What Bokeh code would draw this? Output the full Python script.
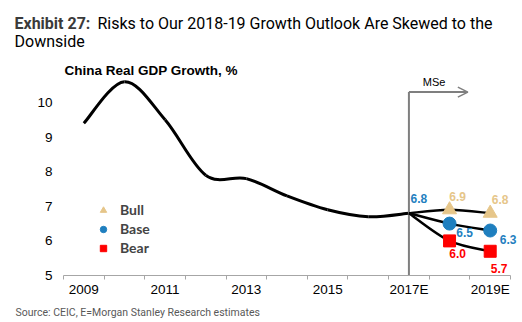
from bokeh.plotting import figure
from bokeh.models import (ColumnDataSource, FixedTicker, Label, Arrow, OpenHead,
                          Legend, LegendItem, Range1d)
from bokeh.embed import file_html
from bokeh.resources import INLINE

# ---------------- data ----------------
hist_years = [2009, 2010, 2011, 2012, 2013, 2014, 2015, 2016, 2017]
hist_gdp = [9.4, 10.6, 9.5, 7.9, 7.8, 7.3, 6.9, 6.7, 6.8]

scen_years = [2017, 2018, 2019]
bull = [6.8, 6.9, 6.8]
base = [6.8, 6.5, 6.3]
bear = [6.8, 6.0, 5.7]

tick_years = [2009, 2011, 2013, 2015, 2017, 2019]
tick_labels = ["2009", "2011", "2013", "2015", "2017E", "2019E"]
y_ticks = [5, 6, 7, 8, 9, 10]

BULL_C = "#E6C68A"
BASE_C = "#1F7FBF"
BEAR_C = "#FF0000"
GRAY = "#7F7F7F"

HEAD_H = 54
FOOT_H = 20
MAIN_H = 322 - HEAD_H - FOOT_H


def smooth(xs, ys):
    """Excel-like smoothed line: cubic Bezier segments through the points."""
    n = len(xs)
    d = dict(x0=[], y0=[], x1=[], y1=[], cx0=[], cy0=[], cx1=[], cy1=[])
    for i in range(n - 1):
        a = i - 1 if i > 0 else i
        b = i + 2 if i + 2 < n else i + 1
        d["x0"].append(xs[i]); d["y0"].append(ys[i])
        d["x1"].append(xs[i + 1]); d["y1"].append(ys[i + 1])
        d["cx0"].append(xs[i] + (xs[i + 1] - xs[a]) / 6)
        d["cy0"].append(ys[i] + (ys[i + 1] - ys[a]) / 6)
        d["cx1"].append(xs[i + 1] - (xs[b] - xs[i]) / 6)
        d["cy1"].append(ys[i + 1] - (ys[b] - ys[i]) / 6)
    return ColumnDataSource(d)


def text_fig(height):
    f = figure(width=522, height=height, output_backend="svg",
               toolbar_location=None, x_range=Range1d(0, 522),
               y_range=Range1d(height, 0), x_axis_type=None, y_axis_type=None,
               min_border=0)
    f.outline_line_color = None
    f.xgrid.visible = False
    f.ygrid.visible = False
    return f


# ---------------- header ----------------
top = text_fig(HEAD_H)
top.add_layout(Label(x=14, y=23, text="Exhibit 27:", text_font="Roboto",
                     text_font_style="bold", text_font_size="16px",
                     text_color="#3a3a3a", text_baseline="alphabetic"))
top.add_layout(Label(x=97, y=23,
                     text="Risks to Our 2018-19 Growth Outlook Are Skewed to the",
                     text_font="Roboto", text_font_size="16px",
                     text_color="#000000", text_baseline="alphabetic"))
top.add_layout(Label(x=14, y=41, text="Downside", text_font="Roboto",
                     text_font_size="16px", text_color="#000000",
                     text_baseline="alphabetic"))

# ---------------- main chart ----------------
frame_h = MAIN_H - 27
p = figure(width=522, height=MAIN_H, output_backend="svg", toolbar_location=None,
           x_range=Range1d(2008.5, 2019.795),
           y_range=Range1d(5, 5 + frame_h / 34.6),
           min_border_left=63, min_border_right=0, min_border_top=0,
           min_border_bottom=27)
p.outline_line_color = None
p.xgrid.visible = False
p.ygrid.visible = False

xa = p.xaxis[0]
xa.bounds = (2008.5, 2019.5)
xa.ticker = FixedTicker(ticks=tick_years,
                        minor_ticks=[y + 0.5 for y in range(2008, 2020)])
xa.major_label_overrides = {t: l for t, l in zip(tick_years, tick_labels)}
xa.major_tick_in = 0
xa.major_tick_out = 0
xa.minor_tick_in = 0
xa.minor_tick_out = 4
xa.minor_tick_line_color = "#A6A6A6"
xa.axis_line_color = "#A6A6A6"
xa.axis_line_width = 1
xa.major_label_text_font = "Liberation Sans"
xa.major_label_text_font_size = "13.5px"
xa.major_label_text_color = "#000000"
xa.major_label_standoff = 2

ya = p.yaxis[0]
ya.ticker = FixedTicker(ticks=y_ticks)
ya.axis_line_color = None
ya.major_tick_line_color = None
ya.major_tick_out = 0
ya.major_tick_in = 0
ya.minor_tick_line_color = None
ya.major_label_text_font = "Liberation Sans"
ya.major_label_text_font_size = "13.5px"
ya.major_label_text_color = "#000000"
ya.major_label_standoff = 11

# historical smooth line
p.bezier(x0="x0", y0="y0", x1="x1", y1="y1", cx0="cx0", cy0="cy0",
         cx1="cx1", cy1="cy1", source=smooth(hist_years, hist_gdp),
         line_color="black", line_width=3)

# forecast divider + arrow
p.segment(x0=[2017], y0=[5], x1=[2017], y1=[10.3], line_color=GRAY, line_width=2)
p.add_layout(Arrow(end=OpenHead(size=10, line_color=GRAY, line_width=1.5),
                   x_start=2017, y_start=10.3, x_end=2018.45, y_end=10.3,
                   line_color=GRAY, line_width=2))
p.add_layout(Label(x=2017.62, y=10.3, text="MSe", text_font="Liberation Sans",
                   text_font_size="11px", text_align="center",
                   text_baseline="bottom", y_offset=4, text_color="#000000"))

# scenario lines
for vals in (bull, base, bear):
    p.bezier(x0="x0", y0="y0", x1="x1", y1="y1", cx0="cx0", cy0="cy0",
             cx1="cx1", cy1="cy1", source=smooth(scen_years, vals),
             line_color="black", line_width=2.5)

r_bull = p.scatter(scen_years[1:], bull[1:], marker="triangle", size=14,
                   fill_color=BULL_C, line_color=BULL_C)
r_base = p.scatter(scen_years[1:], base[1:], marker="circle", size=13,
                   fill_color=BASE_C, line_color=BASE_C)
r_bear = p.scatter(scen_years[1:], bear[1:], marker="square", size=12,
                   fill_color=BEAR_C, line_color=BEAR_C)


def vlabel(x, y, color, dx, dy):
    p.add_layout(Label(x=x, y=y, text=f"{y:.1f}", text_color=color,
                       text_font="Liberation Sans", text_font_style="bold",
                       text_font_size="12px", text_align="center",
                       text_baseline="middle", x_offset=dx, y_offset=dy))


vlabel(scen_years[0], base[0], BASE_C, 10, 15)
vlabel(scen_years[1], bull[1], BULL_C, 8, 13)
vlabel(scen_years[2], bull[2], BULL_C, 10, 14)
vlabel(scen_years[1], base[1], BASE_C, 15, -9)
vlabel(scen_years[2], base[2], BASE_C, 18, -9)
vlabel(scen_years[1], bear[1], BEAR_C, 8, -13)
vlabel(scen_years[2], bear[2], BEAR_C, 9, -17)

legend = Legend(items=[LegendItem(label="Bull", renderers=[r_bull]),
                       LegendItem(label="Base", renderers=[r_base]),
                       LegendItem(label="Bear", renderers=[r_bear])],
                location=(30, 19), border_line_color=None,
                background_fill_alpha=0, padding=0, margin=0, spacing=2,
                glyph_width=20, glyph_height=16, label_standoff=7,
                label_text_font="Lato", label_text_font_style="bold",
                label_text_font_size="14px", label_height=16)
p.add_layout(legend, "center")

# chart title inside frame (frame: left=63, bottom=275 in page coords)
p.add_layout(Label(x=1, y=275 - 70, x_units="screen", y_units="screen",
                   text="China Real GDP Growth, %", text_font="Liberation Sans",
                   text_font_style="bold", text_font_size="13.5px",
                   text_color="#000000", text_baseline="middle"))

# ---------------- footer ----------------
foot = text_fig(FOOT_H)
foot.add_layout(Label(x=15, y=10,
                      text="Source: CEIC, E=Morgan Stanley Research estimates",
                      text_font="Roboto", text_font_size="10.5px",
                      text_color="#595959", text_baseline="middle"))

open("out.html", "w").write(file_html([top, p, foot], INLINE))
